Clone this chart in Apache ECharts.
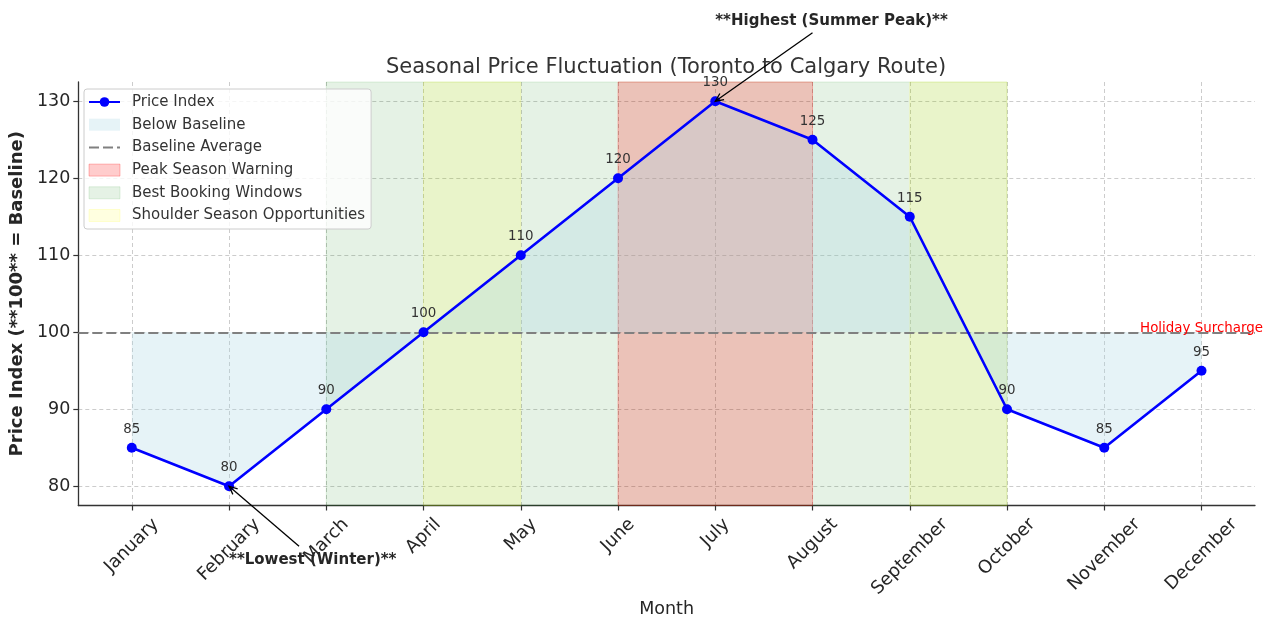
<!DOCTYPE html>
<html>
<head>
<meta charset="utf-8">
<script src="https://cdn.jsdelivr.net/npm/echarts@6/dist/echarts.min.js"></script>
<style>
  html, body { margin: 0; padding: 0; background: #fff; }
  #main { width: 1276px; height: 631px; }
</style>
</head>
<body>
<div id="main"></div>
<script>
var months = ['January', 'February', 'March', 'April', 'May', 'June',
    'July', 'August', 'September', 'October', 'November', 'December'];
var prices = [85, 80, 90, 100, 110, 120, 130, 125, 115, 90, 85, 95];
var yTicks = [80, 90, 100, 110, 120, 130];
var baseline = 100;

// shaded month ranges
var bestWindows = [['March', 'October']];
var shoulderSeason = [['April', 'May'], ['September', 'October']];
var peakSeason = [['June', 'August']];

// annotations, in data coordinates (x = month index)
var lowest = { text: '**Lowest (Winter)**', point: ['February', 80], textAt: [1, 70], tail: [1.72, 72.2] };
var highest = { text: '**Highest (Summer Peak)**', point: ['July', 130], textAt: [6, 140], tail: [7.0, 138.9] };
var holiday = { text: 'Holiday Surcharge', at: ['December', 100] };

var FONT = 'DejaVu Sans';
var INK = '#262626';
var chart = echarts.init(document.getElementById('main'));

function idx(m) { return months.indexOf(m); }

function spanSeries(name, list, color, edge, z) {
    return {
        name: name, type: 'line', data: [], z: z,
        itemStyle: { color: color },
        markArea: {
            silent: true, z: z,
            itemStyle: { color: color, borderColor: edge, borderWidth: 1 },
            data: list.map(function (s) { return [{ xAxis: idx(s[0]) }, { xAxis: idx(s[1]) }]; })
        }
    };
}

// rotated month labels: centre each rotated box on its tick like matplotlib does
var labelSize = 18;
var ctx = document.createElement('canvas').getContext('2d');
ctx.font = labelSize + 'px "' + FONT + '"';
var widths = months.map(function (m) { return ctx.measureText(m).width; });
var wMin = Math.min.apply(null, widths);
var monthRich = {};
months.forEach(function (m, i) {
    var p = (widths[i] - wMin) / 2;
    monthRich['m' + i] = { fontSize: labelSize, fontFamily: FONT, color: INK, padding: [p, p, 0, 0] };
});

var points = prices.map(function (v, i) { return [i, v]; });
var xTicks = months.map(function (m, i) { return i; });

var GREEN = 'rgba(0,128,0,0.1)', GREEN_EDGE = 'rgba(0,128,0,0.12)';
var YELLOW = 'rgba(255,255,0,0.12)', YELLOW_EDGE = 'rgba(255,255,0,0.15)';
var RED = 'rgba(255,0,0,0.2)', RED_EDGE = 'rgba(255,0,0,0.25)';
var BLUE = 'rgba(173,216,230,0.3)';

var option = {
    animation: false,
    textStyle: { fontFamily: FONT },
    title: {
        text: 'Seasonal Price Fluctuation (Toronto to Calgary Route)',
        left: 666, top: 57, padding: 0, textAlign: 'center',
        textStyle: { fontFamily: FONT, fontSize: 21, fontWeight: 'normal', color: '#333' }
    },
    grid: { left: 77, right: 21, top: 82, bottom: 125.5, containLabel: false },
    legend: {
        orient: 'vertical', left: 84, top: 89, z: 20,
        padding: [5.5, 6, 6, 4], itemWidth: 31, itemHeight: 12, itemGap: 7.7,
        backgroundColor: 'rgba(255,255,255,0.8)', borderColor: '#cccccc', borderWidth: 1, borderRadius: 3,
        textStyle: { fontFamily: FONT, fontSize: 15, color: '#333', padding: [0, 0, 0, 7] },
        data: [
            { name: 'Price Index' },
            { name: 'Below Baseline', icon: 'rect', itemStyle: { color: BLUE, borderWidth: 0 } },
            { name: 'Baseline Average', itemStyle: { opacity: 0 } },
            { name: 'Peak Season Warning', icon: 'rect', itemStyle: { color: RED, borderColor: RED_EDGE, borderWidth: 1 } },
            { name: 'Best Booking Windows', icon: 'rect', itemStyle: { color: GREEN, borderColor: GREEN_EDGE, borderWidth: 1 } },
            { name: 'Shoulder Season Opportunities', icon: 'rect', itemStyle: { color: YELLOW, borderColor: YELLOW_EDGE, borderWidth: 1 } }
        ]
    },
    xAxis: {
        type: 'value', min: -0.55, max: 11.55,
        name: 'Month', nameLocation: 'middle', nameGap: 95, nameMoveOverlap: false,
        nameTextStyle: { fontFamily: FONT, fontSize: 17.5, color: INK },
        axisLine: { show: true, onZero: false, lineStyle: { color: '#333', width: 1.3 } },
        axisTick: { show: true, customValues: xTicks, length: 5, lineStyle: { color: '#333', width: 1.2 } },
        axisLabel: {
            customValues: xTicks, rotate: 45, align: 'center', verticalAlign: 'middle', margin: 27.5,
            formatter: function (v) { var i = Math.round(v); return '{m' + i + '|' + months[i] + '}'; },
            rich: monthRich
        },
        splitLine: { show: true, lineStyle: { color: '#cccccc', type: [4, 3], width: 1 } }
    },
    yAxis: {
        type: 'value', min: 77.5, max: 132.5,
        name: 'Price Index (**100** = Baseline)', nameLocation: 'middle', nameGap: 43, nameRotate: 90,
        nameTextStyle: { fontFamily: FONT, fontSize: 18, fontWeight: 'bold', color: INK },
        axisLine: { show: true, onZero: false, lineStyle: { color: '#333', width: 1.3 } },
        axisTick: { show: true, customValues: yTicks, length: 5, lineStyle: { color: '#333', width: 1.2 } },
        axisLabel: { customValues: yTicks, margin: 8, fontFamily: FONT, fontSize: 17.5, color: INK },
        splitLine: { show: true, lineStyle: { color: '#cccccc', type: [4, 3], width: 1 } }
    },
    series: [
        spanSeries('Best Booking Windows', bestWindows, GREEN, GREEN_EDGE, 1),
        spanSeries('Shoulder Season Opportunities', shoulderSeason, YELLOW, YELLOW_EDGE, 2),
        spanSeries('Peak Season Warning', peakSeason, RED, RED_EDGE, 3),
        {
            name: 'Below Baseline', type: 'line', data: points, z: 4,
            symbol: 'none', silent: true,
            itemStyle: { color: BLUE },
            lineStyle: { width: 0, opacity: 0 },
            areaStyle: { color: BLUE, opacity: 1, origin: baseline }
        },
        {
            name: 'Baseline Average', type: 'line', data: [], z: 5, symbol: 'none',
            itemStyle: { color: '#808080' },
            lineStyle: { color: '#808080', type: [10, 4], width: 2 },
            markLine: {
                silent: true, symbol: 'none', z: 5, label: { show: false },
                lineStyle: { color: '#808080', type: [10, 4], width: 2 },
                data: [{ yAxis: baseline }]
            }
        },
        {
            name: 'Price Index', type: 'line', data: points, z: 6,
            symbol: 'circle', symbolSize: 10, showAllSymbol: true,
            itemStyle: { color: '#0000ff' },
            lineStyle: { color: '#0000ff', width: 2.6 },
            label: {
                show: true, position: 'top', distance: 7,
                fontFamily: FONT, fontSize: 13.4, color: '#333',
                formatter: function (p) { return p.value[1]; }
            }
        }
    ]
};

chart.setOption(option);

// annotations placed through the chart's own scales
function px(x, y) {
    if (typeof x === 'string') x = idx(x);
    return chart.convertToPixel({ gridIndex: 0 }, [x, y]);
}

function arrow(tail, head) {
    var a = px(tail[0], tail[1]);
    var b = px(head[0], head[1]);
    var ang = Math.atan2(b[1] - a[1], b[0] - a[0]);
    var L = 9, th = 0.42;
    var p1 = [b[0] - L * Math.cos(ang - th), b[1] - L * Math.sin(ang - th)];
    var p2 = [b[0] - L * Math.cos(ang + th), b[1] - L * Math.sin(ang + th)];
    return [
        { type: 'line', z: 30, shape: { x1: a[0], y1: a[1], x2: b[0], y2: b[1] }, style: { stroke: '#000', lineWidth: 1.3 } },
        { type: 'polyline', z: 30, shape: { points: [p1, b, p2] }, style: { stroke: '#000', lineWidth: 1.3, fill: null } }
    ];
}

function note(a) {
    var t = px(a.textAt[0], a.textAt[1]);
    return {
        type: 'text', z: 30, x: t[0], y: t[1] + 4,
        style: { text: a.text, fill: INK, font: 'bold 15px "' + FONT + '"', align: 'left', verticalAlign: 'bottom' }
    };
}

var h = px(holiday.at[0], holiday.at[1]);
var graphics = [note(lowest), note(highest)]
    .concat(arrow(lowest.tail, lowest.point))
    .concat(arrow(highest.tail, highest.point))
    .concat([{
        type: 'text', z: 30, x: h[0], y: h[1] - 4,
        style: { text: holiday.text, fill: '#ff0000', font: '13.4px "' + FONT + '"', align: 'center', verticalAlign: 'middle' }
    }]);

chart.setOption({ graphic: graphics });
</script>
</body>
</html>
